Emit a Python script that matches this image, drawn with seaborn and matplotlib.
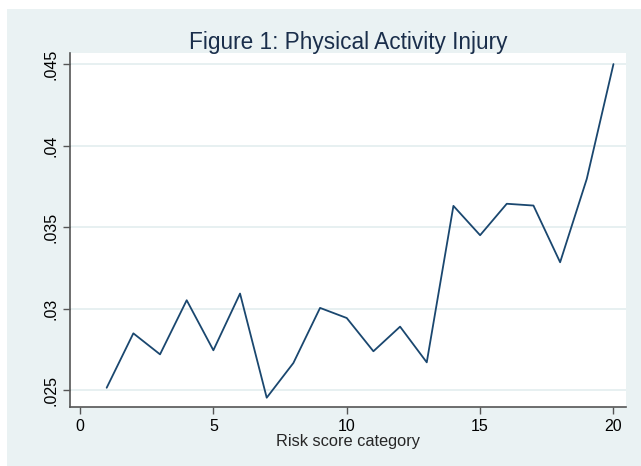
import seaborn as sns
import matplotlib.pyplot as plt
import pandas as pd

# data
risk_category = list(range(1, 21))
injury_rate = [0.02514, 0.02848, 0.02719, 0.03051, 0.02744, 0.03092, 0.02453,
               0.02666, 0.03004, 0.02942, 0.02738, 0.02889, 0.02670, 0.03630,
               0.03450, 0.03643, 0.03632, 0.03284, 0.03796, 0.04500]
x_ticks = [0, 5, 10, 15, 20]
y_ticks = [0.025, 0.03, 0.035, 0.04, 0.045]
y_tick_labels = [".025", ".03", ".035", ".04", ".045"]

df = pd.DataFrame({"risk": risk_category, "rate": injury_rate})

sns.set_style("white")
plt.rcParams["font.family"] = ["Liberation Sans", "DejaVu Sans"]

fig = plt.figure(figsize=(6.41, 4.66), dpi=100)
fig.patch.set_facecolor("white")
# light bluish-gray graph region
fig.add_artist(plt.Rectangle((7 / 641, 0), 1 - 7 / 641, 1 - 9 / 466,
                             transform=fig.transFigure, facecolor="#eaf2f3",
                             edgecolor="none", zorder=0))

ax = fig.add_axes([70 / 641, 1 - 407 / 466, (626 - 70) / 641, (407 - 53) / 466])
ax.set_facecolor("white")

sns.lineplot(data=df, x="risk", y="rate", ax=ax, color="#1a476f", linewidth=1.3)

ax.set_xlim(-0.375, 20.47)
ax.set_ylim(0.02396, 0.04568)
ax.set_xticks(x_ticks)
ax.set_yticks(y_ticks)
ax.set_yticklabels(y_tick_labels, rotation=90, va="center")
ax.tick_params(axis="both", direction="out", length=5, width=1, color="#555555",
               labelsize=11.5, labelcolor="black", left=True, bottom=True)
ax.grid(axis="y", color="#e3edef", linewidth=1.2)
ax.set_axisbelow(True)

for side in ["top", "right"]:
    ax.spines[side].set_visible(False)
for side in ["left", "bottom"]:
    ax.spines[side].set_color("#555555")
    ax.spines[side].set_linewidth(1.2)

ax.set_xlabel("Risk score category", fontsize=11.8, labelpad=0)
ax.set_ylabel("")
ax.set_title("Figure 1: Physical Activity Injury", fontsize=16.3, color="#1a2e4b", pad=3)

fig.savefig("out.png", dpi=100)
